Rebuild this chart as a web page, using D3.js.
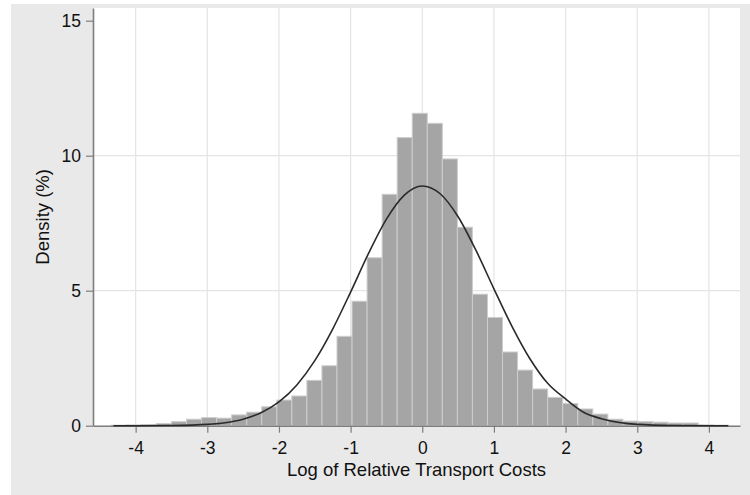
<!DOCTYPE html>
<html>
<head>
<meta charset="utf-8">
<script src="https://cdn.jsdelivr.net/npm/d3@7"></script>
<style>
body { margin: 0; background: #fff; }
text { font-family: "Liberation Sans", Arial, sans-serif; fill: #111; }
</style>
</head>
<body>
<div id="chart"></div>
<script>
var width = 750,
height = 495;

// histogram bins (left edge, log units) and share of observations (%)
var binLeft = [-4.34, -4.13, -3.92, -3.71, -3.50, -3.29, -3.08, -2.87, -2.66, -2.45,
               -2.24, -2.03, -1.82, -1.61, -1.40, -1.19, -0.98, -0.77, -0.56, -0.35,
               -0.14, 0.07, 0.28, 0.49, 0.70, 0.91, 1.12, 1.33, 1.54, 1.75,
               1.96, 2.17, 2.38, 2.59, 2.80, 3.01, 3.22, 3.43, 3.64, 3.85, 4.06];
var binWidth = 0.21;
var percent = [0.02, 0.03, 0.04, 0.08, 0.15, 0.24, 0.30, 0.28, 0.40, 0.50,
               0.70, 0.95, 1.10, 1.68, 2.22, 3.31, 4.61, 6.22, 8.57, 10.67,
               11.57, 11.20, 9.88, 7.35, 4.87, 4.01, 2.73, 2.06, 1.36, 1.05,
               0.82, 0.62, 0.43, 0.24, 0.17, 0.15, 0.13, 0.10, 0.10, 0.03, 0.02];

// normal density overlay
var curveX = [-4.31, -4.0, -3.5, -3.0, -2.75, -2.5, -2.25, -2.0, -1.75, -1.5, -1.25, -1.0,
              -0.75, -0.5, -0.25, 0, 0.25, 0.5, 0.75, 1.0, 1.25, 1.5, 1.75, 2.0,
              2.25, 2.5, 2.75, 3.0, 3.5, 4.0, 4.27];
var curveY = [0.00, 0.00, 0.01, 0.05, 0.11, 0.24, 0.48, 0.88, 1.51, 2.41, 3.58, 4.95,
              6.38, 7.65, 8.54, 8.88, 8.59, 7.74, 6.49, 5.07, 3.69, 2.49, 1.57, 0.99,
              0.50, 0.26, 0.12, 0.05, 0.01, 0.00, 0.00];

var xTicks = [-4, -3, -2, -1, 0, 1, 2, 3, 4];
var yTicks = [0, 5, 10, 15];
var yGrid = [5, 10];

var svg = d3.select('#chart').append('svg')
.attr('width', width)
.attr('height', height);

// outer grey background
svg.append('rect')
.attr('x', 11).attr('y', 4)
.attr('width', width-11).attr('height', height-4)
.attr('fill', '#e9e9e9');

var plotL = 93, plotR = 740, plotT = 8, plotB = 425.7;

let scaleX = d3.scaleLinear().domain([-4.595, 4.434]).range([plotL, plotR]);
let scaleY = d3.scaleLinear().domain([0, 15.47]).range([plotB, plotT]);

// plot region
svg.append('rect')
.attr('x', plotL).attr('y', plotT)
.attr('width', plotR-plotL).attr('height', plotB-plotT)
.attr('fill', '#fff');

var grid = svg.append('g');
grid.selectAll('.vgrid').data(xTicks).enter().append('line')
.attr('class', 'vgrid')
.attr('x1', d => scaleX(d)).attr('x2', d => scaleX(d))
.attr('y1', plotT).attr('y2', plotB)
.attr('stroke', '#e4e4e4').attr('stroke-width', 1.2);
grid.selectAll('.hgrid').data(yGrid).enter().append('line')
.attr('class', 'hgrid')
.attr('x1', plotL).attr('x2', plotR)
.attr('y1', d => scaleY(d)).attr('y2', d => scaleY(d))
.attr('stroke', '#e4e4e4').attr('stroke-width', 1.2);

var bins = binLeft.map(function(b, i) { return {x0: b, x1: b+binWidth, y: percent[i]}; });

svg.append('g').selectAll('rect').data(bins).enter().append('rect')
.attr('x', d => scaleX(d.x0))
.attr('y', d => scaleY(d.y))
.attr('width', d => scaleX(d.x1)-scaleX(d.x0))
.attr('height', d => scaleY(0)-scaleY(d.y))
.attr('fill', '#a5a5a5')
.attr('stroke', '#cdcdcd')
.attr('stroke-width', 1);

var lineFunc = d3.line()
.x(d => scaleX(d[0]))
.y(d => scaleY(d[1]))
.curve(d3.curveMonotoneX);

var pts = curveX.map(function(x, i) { return [x, curveY[i]]; });

// axes
var axisY = d3.axisLeft(scaleY).tickValues(yTicks).tickSize(7).tickSizeOuter(0).tickPadding(5)
.tickFormat(d => String(d));
var axisX = d3.axisBottom(scaleX).tickValues(xTicks).tickSize(7).tickSizeOuter(0).tickPadding(9)
.tickFormat(d => String(d));

var gy = svg.append('g').attr('transform', 'translate('+plotL+',0)').call(axisY);
var gx = svg.append('g').attr('transform', 'translate(0,'+plotB+')').call(axisX);

[gx, gy].forEach(function(a) {
    a.attr('font-size', 17.5).attr('font-family', '"Liberation Sans", Arial, sans-serif');
    a.select('.domain').attr('stroke', '#7d7d7d').attr('stroke-width', 1.6);
    a.selectAll('.tick line').attr('stroke', '#7d7d7d').attr('stroke-width', 1.2);
    a.selectAll('.tick text').attr('fill', '#111');
});
gy.selectAll('.tick text').attr('dy', '0.35em');
gx.selectAll('.tick text').attr('dy', '0.68em');

svg.append('path')
.datum(pts)
.attr('d', lineFunc)
.attr('fill', 'none')
.attr('stroke', '#2a2a2a')
.attr('stroke-width', 1.6);

// axis titles
svg.append('text')
.attr('x', (plotL+plotR)/2)
.attr('y', 475.5)
.attr('text-anchor', 'middle')
.attr('font-size', 18.5)
.text('Log of Relative Transport Costs');

svg.append('text')
.attr('transform', 'translate(49,'+((plotT+plotB)/2)+') rotate(-90)')
.attr('text-anchor', 'middle')
.attr('font-size', 18.5)
.text('Density (%)');
</script>
</body>
</html>
